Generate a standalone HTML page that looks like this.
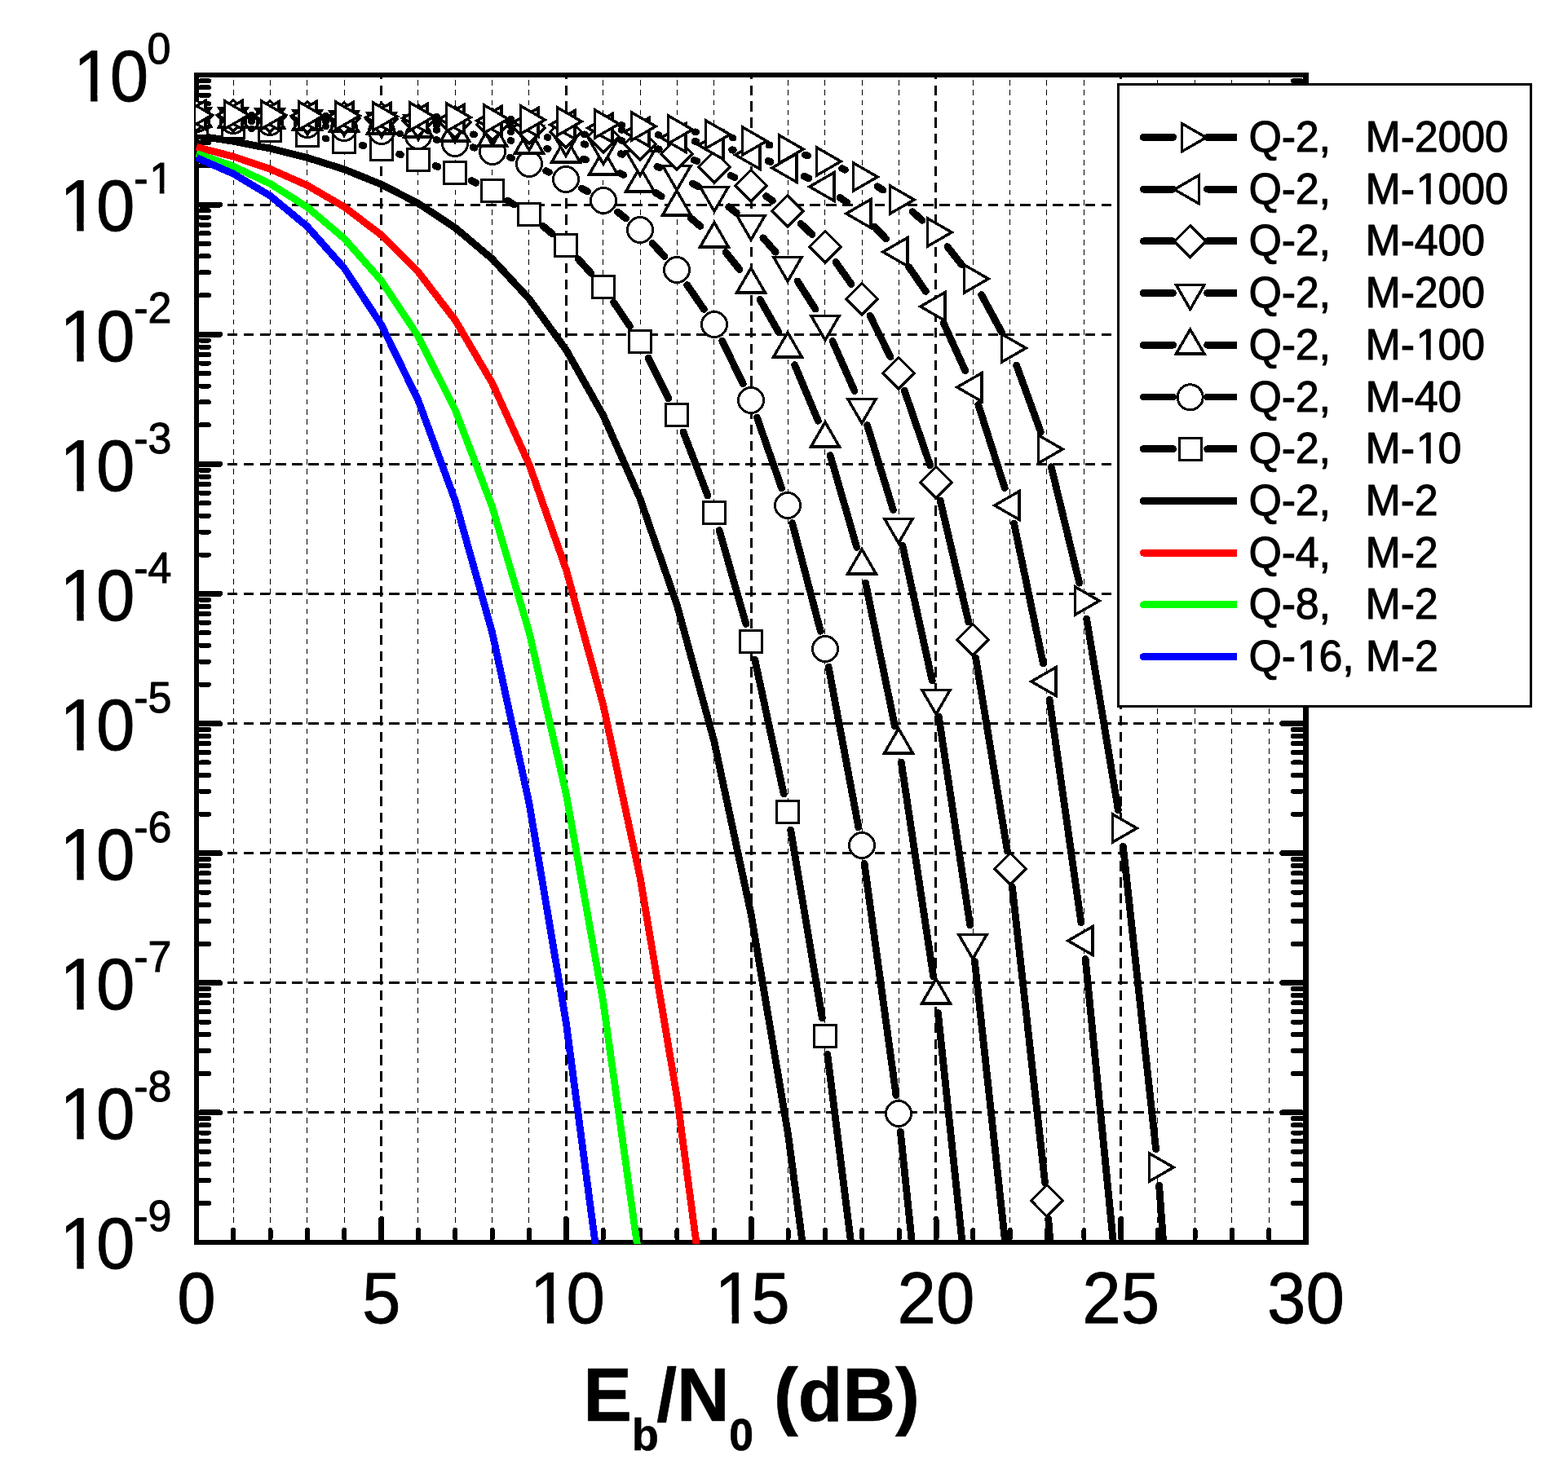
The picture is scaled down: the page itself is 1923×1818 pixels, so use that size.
<!DOCTYPE html>
<html lang="en"><head><meta charset="utf-8"><title>BER vs Eb/N0</title>
<style>html,body{margin:0;padding:0;background:#fff}body{width:1923px;height:1818px;overflow:hidden}svg{display:block}text{font-family:"Liberation Sans",sans-serif;fill:#000;white-space:pre}</style></head><body>
<svg width="1923" height="1818" viewBox="0 0 1923 1818">
<rect width="1923" height="1818" fill="#fff"/>
<defs><clipPath id="vp"><rect x="240" y="90.5" width="1363" height="1435.5"/></clipPath></defs>
<defs><clipPath id="gp"><rect x="244" y="95" width="1354" height="1426"/></clipPath></defs>
<g id="grid" shape-rendering="crispEdges" stroke="#000" fill="none" clip-path="url(#gp)">
<line x1="286.5" y1="85.86" x2="286.5" y2="1530" stroke-width="1" stroke-dasharray="6.6 5.64"/>
<line x1="331.5" y1="85.86" x2="331.5" y2="1530" stroke-width="1" stroke-dasharray="6.6 5.64"/>
<line x1="376.5" y1="85.86" x2="376.5" y2="1530" stroke-width="1" stroke-dasharray="6.6 5.64"/>
<line x1="422.5" y1="85.86" x2="422.5" y2="1530" stroke-width="1" stroke-dasharray="6.6 5.64"/>
<line x1="512.5" y1="85.86" x2="512.5" y2="1530" stroke-width="1" stroke-dasharray="6.6 5.64"/>
<line x1="558.5" y1="85.86" x2="558.5" y2="1530" stroke-width="1" stroke-dasharray="6.6 5.64"/>
<line x1="603.5" y1="85.86" x2="603.5" y2="1530" stroke-width="1" stroke-dasharray="6.6 5.64"/>
<line x1="648.5" y1="85.86" x2="648.5" y2="1530" stroke-width="1" stroke-dasharray="6.6 5.64"/>
<line x1="739.5" y1="85.86" x2="739.5" y2="1530" stroke-width="1" stroke-dasharray="6.6 5.64"/>
<line x1="785.5" y1="85.86" x2="785.5" y2="1530" stroke-width="1" stroke-dasharray="6.6 5.64"/>
<line x1="830.5" y1="85.86" x2="830.5" y2="1530" stroke-width="1" stroke-dasharray="6.6 5.64"/>
<line x1="875.5" y1="85.86" x2="875.5" y2="1530" stroke-width="1" stroke-dasharray="6.6 5.64"/>
<line x1="966.5" y1="85.86" x2="966.5" y2="1530" stroke-width="1" stroke-dasharray="6.6 5.64"/>
<line x1="1011.5" y1="85.86" x2="1011.5" y2="1530" stroke-width="1" stroke-dasharray="6.6 5.64"/>
<line x1="1057.5" y1="85.86" x2="1057.5" y2="1530" stroke-width="1" stroke-dasharray="6.6 5.64"/>
<line x1="1102.5" y1="85.86" x2="1102.5" y2="1530" stroke-width="1" stroke-dasharray="6.6 5.64"/>
<line x1="1193.5" y1="85.86" x2="1193.5" y2="1530" stroke-width="1" stroke-dasharray="6.6 5.64"/>
<line x1="1238.5" y1="85.86" x2="1238.5" y2="1530" stroke-width="1" stroke-dasharray="6.6 5.64"/>
<line x1="1283.5" y1="85.86" x2="1283.5" y2="1530" stroke-width="1" stroke-dasharray="6.6 5.64"/>
<line x1="1329.5" y1="85.86" x2="1329.5" y2="1530" stroke-width="1" stroke-dasharray="6.6 5.64"/>
<line x1="1419.5" y1="85.86" x2="1419.5" y2="1530" stroke-width="1" stroke-dasharray="6.6 5.64"/>
<line x1="1465.5" y1="85.86" x2="1465.5" y2="1530" stroke-width="1" stroke-dasharray="6.6 5.64"/>
<line x1="1510.5" y1="85.86" x2="1510.5" y2="1530" stroke-width="1" stroke-dasharray="6.6 5.64"/>
<line x1="1556.5" y1="85.86" x2="1556.5" y2="1530" stroke-width="1" stroke-dasharray="6.6 5.64"/>
<line x1="467.5" y1="84.72" x2="467.5" y2="1530" stroke-width="3" stroke-dasharray="12.4 7.43"/>
<line x1="694.5" y1="84.72" x2="694.5" y2="1530" stroke-width="3" stroke-dasharray="12.4 7.43"/>
<line x1="921.5" y1="84.72" x2="921.5" y2="1530" stroke-width="3" stroke-dasharray="12.4 7.43"/>
<line x1="1147.5" y1="84.72" x2="1147.5" y2="1530" stroke-width="3" stroke-dasharray="12.4 7.43"/>
<line x1="1374.5" y1="84.72" x2="1374.5" y2="1530" stroke-width="3" stroke-dasharray="12.4 7.43"/>
<line x1="239.1" y1="251.5" x2="1610" y2="251.5" stroke-width="3" stroke-dasharray="12.5 7.35"/>
<line x1="239.1" y1="410.5" x2="1610" y2="410.5" stroke-width="3" stroke-dasharray="12.5 7.35"/>
<line x1="239.1" y1="569.5" x2="1610" y2="569.5" stroke-width="3" stroke-dasharray="12.5 7.35"/>
<line x1="239.1" y1="728.5" x2="1610" y2="728.5" stroke-width="3" stroke-dasharray="12.5 7.35"/>
<line x1="239.1" y1="887.5" x2="1610" y2="887.5" stroke-width="3" stroke-dasharray="12.5 7.35"/>
<line x1="239.1" y1="1046.5" x2="1610" y2="1046.5" stroke-width="3" stroke-dasharray="12.5 7.35"/>
<line x1="239.1" y1="1205.5" x2="1610" y2="1205.5" stroke-width="3" stroke-dasharray="12.5 7.35"/>
<line x1="239.1" y1="1364.5" x2="1610" y2="1364.5" stroke-width="3" stroke-dasharray="12.5 7.35"/>
</g>
<g id="axes" shape-rendering="crispEdges" fill="#000">
<rect x="238" y="89" width="6" height="1438"/>
<rect x="238" y="89" width="1367" height="6"/>
<rect x="1598" y="89" width="7" height="1438"/>
<rect x="238" y="1521" width="1367" height="6"/>
</g>
<g id="ticks" stroke="#000" stroke-linecap="round" fill="none" shape-rendering="crispEdges">
<line x1="246" y1="251.111" x2="269.5" y2="251.111" stroke-width="7"/>
<line x1="1596" y1="251.111" x2="1573" y2="251.111" stroke-width="7"/>
<line x1="246" y1="203.214" x2="256" y2="203.214" stroke-width="6"/>
<line x1="1596" y1="203.214" x2="1586" y2="203.214" stroke-width="6"/>
<line x1="246" y1="175.196" x2="256" y2="175.196" stroke-width="6"/>
<line x1="1596" y1="175.196" x2="1586" y2="175.196" stroke-width="6"/>
<line x1="246" y1="155.317" x2="256" y2="155.317" stroke-width="6"/>
<line x1="1596" y1="155.317" x2="1586" y2="155.317" stroke-width="6"/>
<line x1="246" y1="139.897" x2="256" y2="139.897" stroke-width="6"/>
<line x1="1596" y1="139.897" x2="1586" y2="139.897" stroke-width="6"/>
<line x1="246" y1="127.299" x2="256" y2="127.299" stroke-width="6"/>
<line x1="1596" y1="127.299" x2="1586" y2="127.299" stroke-width="6"/>
<line x1="246" y1="116.647" x2="256" y2="116.647" stroke-width="6"/>
<line x1="1596" y1="116.647" x2="1586" y2="116.647" stroke-width="6"/>
<line x1="246" y1="107.419" x2="256" y2="107.419" stroke-width="6"/>
<line x1="1596" y1="107.419" x2="1586" y2="107.419" stroke-width="6"/>
<line x1="246" y1="99.281" x2="256" y2="99.281" stroke-width="6"/>
<line x1="1596" y1="99.281" x2="1586" y2="99.281" stroke-width="6"/>
<line x1="246" y1="410.222" x2="269.5" y2="410.222" stroke-width="7"/>
<line x1="1596" y1="410.222" x2="1573" y2="410.222" stroke-width="7"/>
<line x1="246" y1="362.325" x2="256" y2="362.325" stroke-width="6"/>
<line x1="1596" y1="362.325" x2="1586" y2="362.325" stroke-width="6"/>
<line x1="246" y1="334.307" x2="256" y2="334.307" stroke-width="6"/>
<line x1="1596" y1="334.307" x2="1586" y2="334.307" stroke-width="6"/>
<line x1="246" y1="314.428" x2="256" y2="314.428" stroke-width="6"/>
<line x1="1596" y1="314.428" x2="1586" y2="314.428" stroke-width="6"/>
<line x1="246" y1="299.008" x2="256" y2="299.008" stroke-width="6"/>
<line x1="1596" y1="299.008" x2="1586" y2="299.008" stroke-width="6"/>
<line x1="246" y1="286.41" x2="256" y2="286.41" stroke-width="6"/>
<line x1="1596" y1="286.41" x2="1586" y2="286.41" stroke-width="6"/>
<line x1="246" y1="275.758" x2="256" y2="275.758" stroke-width="6"/>
<line x1="1596" y1="275.758" x2="1586" y2="275.758" stroke-width="6"/>
<line x1="246" y1="266.53" x2="256" y2="266.53" stroke-width="6"/>
<line x1="1596" y1="266.53" x2="1586" y2="266.53" stroke-width="6"/>
<line x1="246" y1="258.392" x2="256" y2="258.392" stroke-width="6"/>
<line x1="1596" y1="258.392" x2="1586" y2="258.392" stroke-width="6"/>
<line x1="246" y1="569.333" x2="269.5" y2="569.333" stroke-width="7"/>
<line x1="1596" y1="569.333" x2="1573" y2="569.333" stroke-width="7"/>
<line x1="246" y1="521.436" x2="256" y2="521.436" stroke-width="6"/>
<line x1="1596" y1="521.436" x2="1586" y2="521.436" stroke-width="6"/>
<line x1="246" y1="493.418" x2="256" y2="493.418" stroke-width="6"/>
<line x1="1596" y1="493.418" x2="1586" y2="493.418" stroke-width="6"/>
<line x1="246" y1="473.539" x2="256" y2="473.539" stroke-width="6"/>
<line x1="1596" y1="473.539" x2="1586" y2="473.539" stroke-width="6"/>
<line x1="246" y1="458.119" x2="256" y2="458.119" stroke-width="6"/>
<line x1="1596" y1="458.119" x2="1586" y2="458.119" stroke-width="6"/>
<line x1="246" y1="445.521" x2="256" y2="445.521" stroke-width="6"/>
<line x1="1596" y1="445.521" x2="1586" y2="445.521" stroke-width="6"/>
<line x1="246" y1="434.869" x2="256" y2="434.869" stroke-width="6"/>
<line x1="1596" y1="434.869" x2="1586" y2="434.869" stroke-width="6"/>
<line x1="246" y1="425.641" x2="256" y2="425.641" stroke-width="6"/>
<line x1="1596" y1="425.641" x2="1586" y2="425.641" stroke-width="6"/>
<line x1="246" y1="417.503" x2="256" y2="417.503" stroke-width="6"/>
<line x1="1596" y1="417.503" x2="1586" y2="417.503" stroke-width="6"/>
<line x1="246" y1="728.444" x2="269.5" y2="728.444" stroke-width="7"/>
<line x1="1596" y1="728.444" x2="1573" y2="728.444" stroke-width="7"/>
<line x1="246" y1="680.547" x2="256" y2="680.547" stroke-width="6"/>
<line x1="1596" y1="680.547" x2="1586" y2="680.547" stroke-width="6"/>
<line x1="246" y1="652.529" x2="256" y2="652.529" stroke-width="6"/>
<line x1="1596" y1="652.529" x2="1586" y2="652.529" stroke-width="6"/>
<line x1="246" y1="632.65" x2="256" y2="632.65" stroke-width="6"/>
<line x1="1596" y1="632.65" x2="1586" y2="632.65" stroke-width="6"/>
<line x1="246" y1="617.23" x2="256" y2="617.23" stroke-width="6"/>
<line x1="1596" y1="617.23" x2="1586" y2="617.23" stroke-width="6"/>
<line x1="246" y1="604.632" x2="256" y2="604.632" stroke-width="6"/>
<line x1="1596" y1="604.632" x2="1586" y2="604.632" stroke-width="6"/>
<line x1="246" y1="593.98" x2="256" y2="593.98" stroke-width="6"/>
<line x1="1596" y1="593.98" x2="1586" y2="593.98" stroke-width="6"/>
<line x1="246" y1="584.752" x2="256" y2="584.752" stroke-width="6"/>
<line x1="1596" y1="584.752" x2="1586" y2="584.752" stroke-width="6"/>
<line x1="246" y1="576.614" x2="256" y2="576.614" stroke-width="6"/>
<line x1="1596" y1="576.614" x2="1586" y2="576.614" stroke-width="6"/>
<line x1="246" y1="887.555" x2="269.5" y2="887.555" stroke-width="7"/>
<line x1="1596" y1="887.555" x2="1573" y2="887.555" stroke-width="7"/>
<line x1="246" y1="839.658" x2="256" y2="839.658" stroke-width="6"/>
<line x1="1596" y1="839.658" x2="1586" y2="839.658" stroke-width="6"/>
<line x1="246" y1="811.64" x2="256" y2="811.64" stroke-width="6"/>
<line x1="1596" y1="811.64" x2="1586" y2="811.64" stroke-width="6"/>
<line x1="246" y1="791.761" x2="256" y2="791.761" stroke-width="6"/>
<line x1="1596" y1="791.761" x2="1586" y2="791.761" stroke-width="6"/>
<line x1="246" y1="776.341" x2="256" y2="776.341" stroke-width="6"/>
<line x1="1596" y1="776.341" x2="1586" y2="776.341" stroke-width="6"/>
<line x1="246" y1="763.743" x2="256" y2="763.743" stroke-width="6"/>
<line x1="1596" y1="763.743" x2="1586" y2="763.743" stroke-width="6"/>
<line x1="246" y1="753.091" x2="256" y2="753.091" stroke-width="6"/>
<line x1="1596" y1="753.091" x2="1586" y2="753.091" stroke-width="6"/>
<line x1="246" y1="743.863" x2="256" y2="743.863" stroke-width="6"/>
<line x1="1596" y1="743.863" x2="1586" y2="743.863" stroke-width="6"/>
<line x1="246" y1="735.725" x2="256" y2="735.725" stroke-width="6"/>
<line x1="1596" y1="735.725" x2="1586" y2="735.725" stroke-width="6"/>
<line x1="246" y1="1046.666" x2="269.5" y2="1046.666" stroke-width="7"/>
<line x1="1596" y1="1046.666" x2="1573" y2="1046.666" stroke-width="7"/>
<line x1="246" y1="998.769" x2="256" y2="998.769" stroke-width="6"/>
<line x1="1596" y1="998.769" x2="1586" y2="998.769" stroke-width="6"/>
<line x1="246" y1="970.751" x2="256" y2="970.751" stroke-width="6"/>
<line x1="1596" y1="970.751" x2="1586" y2="970.751" stroke-width="6"/>
<line x1="246" y1="950.872" x2="256" y2="950.872" stroke-width="6"/>
<line x1="1596" y1="950.872" x2="1586" y2="950.872" stroke-width="6"/>
<line x1="246" y1="935.452" x2="256" y2="935.452" stroke-width="6"/>
<line x1="1596" y1="935.452" x2="1586" y2="935.452" stroke-width="6"/>
<line x1="246" y1="922.854" x2="256" y2="922.854" stroke-width="6"/>
<line x1="1596" y1="922.854" x2="1586" y2="922.854" stroke-width="6"/>
<line x1="246" y1="912.202" x2="256" y2="912.202" stroke-width="6"/>
<line x1="1596" y1="912.202" x2="1586" y2="912.202" stroke-width="6"/>
<line x1="246" y1="902.974" x2="256" y2="902.974" stroke-width="6"/>
<line x1="1596" y1="902.974" x2="1586" y2="902.974" stroke-width="6"/>
<line x1="246" y1="894.836" x2="256" y2="894.836" stroke-width="6"/>
<line x1="1596" y1="894.836" x2="1586" y2="894.836" stroke-width="6"/>
<line x1="246" y1="1205.777" x2="269.5" y2="1205.777" stroke-width="7"/>
<line x1="1596" y1="1205.777" x2="1573" y2="1205.777" stroke-width="7"/>
<line x1="246" y1="1157.88" x2="256" y2="1157.88" stroke-width="6"/>
<line x1="1596" y1="1157.88" x2="1586" y2="1157.88" stroke-width="6"/>
<line x1="246" y1="1129.862" x2="256" y2="1129.862" stroke-width="6"/>
<line x1="1596" y1="1129.862" x2="1586" y2="1129.862" stroke-width="6"/>
<line x1="246" y1="1109.983" x2="256" y2="1109.983" stroke-width="6"/>
<line x1="1596" y1="1109.983" x2="1586" y2="1109.983" stroke-width="6"/>
<line x1="246" y1="1094.563" x2="256" y2="1094.563" stroke-width="6"/>
<line x1="1596" y1="1094.563" x2="1586" y2="1094.563" stroke-width="6"/>
<line x1="246" y1="1081.965" x2="256" y2="1081.965" stroke-width="6"/>
<line x1="1596" y1="1081.965" x2="1586" y2="1081.965" stroke-width="6"/>
<line x1="246" y1="1071.313" x2="256" y2="1071.313" stroke-width="6"/>
<line x1="1596" y1="1071.313" x2="1586" y2="1071.313" stroke-width="6"/>
<line x1="246" y1="1062.085" x2="256" y2="1062.085" stroke-width="6"/>
<line x1="1596" y1="1062.085" x2="1586" y2="1062.085" stroke-width="6"/>
<line x1="246" y1="1053.947" x2="256" y2="1053.947" stroke-width="6"/>
<line x1="1596" y1="1053.947" x2="1586" y2="1053.947" stroke-width="6"/>
<line x1="246" y1="1364.888" x2="269.5" y2="1364.888" stroke-width="7"/>
<line x1="1596" y1="1364.888" x2="1573" y2="1364.888" stroke-width="7"/>
<line x1="246" y1="1316.991" x2="256" y2="1316.991" stroke-width="6"/>
<line x1="1596" y1="1316.991" x2="1586" y2="1316.991" stroke-width="6"/>
<line x1="246" y1="1288.973" x2="256" y2="1288.973" stroke-width="6"/>
<line x1="1596" y1="1288.973" x2="1586" y2="1288.973" stroke-width="6"/>
<line x1="246" y1="1269.094" x2="256" y2="1269.094" stroke-width="6"/>
<line x1="1596" y1="1269.094" x2="1586" y2="1269.094" stroke-width="6"/>
<line x1="246" y1="1253.674" x2="256" y2="1253.674" stroke-width="6"/>
<line x1="1596" y1="1253.674" x2="1586" y2="1253.674" stroke-width="6"/>
<line x1="246" y1="1241.076" x2="256" y2="1241.076" stroke-width="6"/>
<line x1="1596" y1="1241.076" x2="1586" y2="1241.076" stroke-width="6"/>
<line x1="246" y1="1230.424" x2="256" y2="1230.424" stroke-width="6"/>
<line x1="1596" y1="1230.424" x2="1586" y2="1230.424" stroke-width="6"/>
<line x1="246" y1="1221.196" x2="256" y2="1221.196" stroke-width="6"/>
<line x1="1596" y1="1221.196" x2="1586" y2="1221.196" stroke-width="6"/>
<line x1="246" y1="1213.058" x2="256" y2="1213.058" stroke-width="6"/>
<line x1="1596" y1="1213.058" x2="1586" y2="1213.058" stroke-width="6"/>
<line x1="246" y1="1476.102" x2="256" y2="1476.102" stroke-width="6"/>
<line x1="1596" y1="1476.102" x2="1586" y2="1476.102" stroke-width="6"/>
<line x1="246" y1="1448.084" x2="256" y2="1448.084" stroke-width="6"/>
<line x1="1596" y1="1448.084" x2="1586" y2="1448.084" stroke-width="6"/>
<line x1="246" y1="1428.205" x2="256" y2="1428.205" stroke-width="6"/>
<line x1="1596" y1="1428.205" x2="1586" y2="1428.205" stroke-width="6"/>
<line x1="246" y1="1412.785" x2="256" y2="1412.785" stroke-width="6"/>
<line x1="1596" y1="1412.785" x2="1586" y2="1412.785" stroke-width="6"/>
<line x1="246" y1="1400.187" x2="256" y2="1400.187" stroke-width="6"/>
<line x1="1596" y1="1400.187" x2="1586" y2="1400.187" stroke-width="6"/>
<line x1="246" y1="1389.535" x2="256" y2="1389.535" stroke-width="6"/>
<line x1="1596" y1="1389.535" x2="1586" y2="1389.535" stroke-width="6"/>
<line x1="246" y1="1380.307" x2="256" y2="1380.307" stroke-width="6"/>
<line x1="1596" y1="1380.307" x2="1586" y2="1380.307" stroke-width="6"/>
<line x1="246" y1="1372.169" x2="256" y2="1372.169" stroke-width="6"/>
<line x1="1596" y1="1372.169" x2="1586" y2="1372.169" stroke-width="6"/>
<line x1="286.16" y1="1519" x2="286.16" y2="1509" stroke-width="6"/>
<line x1="331.52" y1="1519" x2="331.52" y2="1509" stroke-width="6"/>
<line x1="376.88" y1="1519" x2="376.88" y2="1509" stroke-width="6"/>
<line x1="422.24" y1="1519" x2="422.24" y2="1509" stroke-width="6"/>
<line x1="467.6" y1="1519" x2="467.6" y2="1495.5" stroke-width="7"/>
<line x1="512.96" y1="1519" x2="512.96" y2="1509" stroke-width="6"/>
<line x1="558.32" y1="1519" x2="558.32" y2="1509" stroke-width="6"/>
<line x1="603.68" y1="1519" x2="603.68" y2="1509" stroke-width="6"/>
<line x1="649.04" y1="1519" x2="649.04" y2="1509" stroke-width="6"/>
<line x1="694.4" y1="1519" x2="694.4" y2="1495.5" stroke-width="7"/>
<line x1="739.76" y1="1519" x2="739.76" y2="1509" stroke-width="6"/>
<line x1="785.12" y1="1519" x2="785.12" y2="1509" stroke-width="6"/>
<line x1="830.48" y1="1519" x2="830.48" y2="1509" stroke-width="6"/>
<line x1="875.84" y1="1519" x2="875.84" y2="1509" stroke-width="6"/>
<line x1="921.2" y1="1519" x2="921.2" y2="1495.5" stroke-width="7"/>
<line x1="966.56" y1="1519" x2="966.56" y2="1509" stroke-width="6"/>
<line x1="1011.92" y1="1519" x2="1011.92" y2="1509" stroke-width="6"/>
<line x1="1057.28" y1="1519" x2="1057.28" y2="1509" stroke-width="6"/>
<line x1="1102.64" y1="1519" x2="1102.64" y2="1509" stroke-width="6"/>
<line x1="1148" y1="1519" x2="1148" y2="1495.5" stroke-width="7"/>
<line x1="1193.36" y1="1519" x2="1193.36" y2="1509" stroke-width="6"/>
<line x1="1238.72" y1="1519" x2="1238.72" y2="1509" stroke-width="6"/>
<line x1="1284.08" y1="1519" x2="1284.08" y2="1509" stroke-width="6"/>
<line x1="1329.44" y1="1519" x2="1329.44" y2="1509" stroke-width="6"/>
<line x1="1374.8" y1="1519" x2="1374.8" y2="1495.5" stroke-width="7"/>
<line x1="1420.16" y1="1519" x2="1420.16" y2="1509" stroke-width="6"/>
<line x1="1465.52" y1="1519" x2="1465.52" y2="1509" stroke-width="6"/>
<line x1="1510.88" y1="1519" x2="1510.88" y2="1509" stroke-width="6"/>
<line x1="1556.24" y1="1519" x2="1556.24" y2="1509" stroke-width="6"/>
</g>
<g id="data" clip-path="url(#vp)" shape-rendering="crispEdges" fill="none" stroke-linejoin="round">
<polyline points="240.8,166.309 286.16,173.295 331.52,182.166 376.88,193.448 422.24,207.815 467.6,226.138 512.96,249.536 558.32,279.448 603.68,317.715 649.04,366.69 694.4,429.366 739.76,509.539 785.12,612.007 830.48,742.82 875.84,909.598 921.2,1121.921 966.56,1391.839 1011.92,1734.494" stroke="#000000" stroke-width="8.8" stroke-linecap="butt"/>
<polyline points="240.8,180.318 286.16,192.041 331.52,207.37 376.88,227.454 422.24,253.797 467.6,288.351 512.96,333.622 558.32,392.795 603.68,469.88 649.04,569.874 694.4,698.97 739.76,864.825 785.12,1076.941 830.48,1347.203 875.84,1690.595" stroke="#ff0000" stroke-width="8.8" stroke-linecap="butt"/>
<polyline points="240.8,188.26 286.16,204.09 331.52,225.413 376.88,254.112 422.24,292.646 467.6,344.17 512.96,412.68 558.32,503.157 603.68,621.725 649.04,775.837 694.4,974.553 739.76,1228.996 785.12,1553.087 830.48,1964.505" stroke="#00ff00" stroke-width="8.8" stroke-linecap="butt"/>
<polyline points="240.8,193.35 286.16,213.097 331.52,240.367 376.88,277.849 422.24,329.018 467.6,398.29 512.96,491.169 558.32,614.38 603.68,776.017 649.04,985.746 694.4,1255.224 739.76,1598.93 785.12,2035.337" stroke="#0000ff" stroke-width="8.8" stroke-linecap="butt"/>
<path d="M308.301,157.982L308.699,158.018M399.103,169.929L399.897,170.071M444.032,178.311L445.968,178.689M489.568,189.231L491.432,189.769M534.153,203.521L536.847,204.479M578.253,221.686L583.747,224.314M622.871,246.161L630.129,250.839M666.152,277.484L676.848,286.516M709.036,317.671L724.964,335.329M752.517,370.637L772.483,400.363M795.04,439.08L819.96,488.92M838.036,529.963L867.964,608.037M882.149,650.591L914.851,765.409M925.725,808.947L961.275,974.053M969.704,1018.142L1008.296,1248.858M1014.785,1293.277L1054.215,1608.723" stroke="#000" stroke-width="8.8" stroke-linecap="round"/>
<g fill="#fff" stroke="#000" stroke-width="3" stroke-linejoin="miter">
<rect x="227.5" y="139.5" width="27" height="27"/>
<rect x="272.5" y="142.5" width="27" height="27"/>
<rect x="317.5" y="146.5" width="27" height="27"/>
<rect x="363.5" y="152.5" width="27" height="27"/>
<rect x="408.5" y="160.5" width="27" height="27"/>
<rect x="454.5" y="169.5" width="27" height="27"/>
<rect x="499.5" y="182.5" width="27" height="27"/>
<rect x="544.5" y="198.5" width="27" height="27"/>
<rect x="590.5" y="220.5" width="27" height="27"/>
<rect x="635.5" y="249.5" width="27" height="27"/>
<rect x="680.5" y="287.5" width="27" height="27"/>
<rect x="726.5" y="338.5" width="27" height="27"/>
<rect x="771.5" y="405.5" width="27" height="27"/>
<rect x="816.5" y="495.5" width="27" height="27"/>
<rect x="862.5" y="615.5" width="27" height="27"/>
<rect x="907.5" y="773.5" width="27" height="27"/>
<rect x="952.5" y="982.5" width="27" height="27"/>
<rect x="998.5" y="1257.5" width="27" height="27"/>
</g>
<path d="M308.3,148.991L308.7,149.009M399.301,154.982L399.699,155.018M490.253,163.967L490.747,164.033M535.014,171.403L535.986,171.597M579.938,180.769L582.062,181.231M625.298,193.099L627.702,193.901M669.682,209.732L673.318,211.268M713.544,231.047L720.456,234.953M757.531,260.024L767.469,267.976M800.185,298.535L814.815,314.465M842.707,349.508L863.293,379.492M885.778,418.209L911.222,470.791M928.394,512.197L958.606,598.803M971.677,641.72L1006.323,774.28M1016.121,818.069L1052.879,1014.931M1060.042,1059.243L1098.958,1343.757M1104.314,1388.33L1145.686,1787.67" stroke="#000" stroke-width="8.8" stroke-linecap="round"/>
<g fill="#fff" stroke="#000" stroke-width="3" stroke-linejoin="miter">
<circle cx="241" cy="146" r="15.5"/>
<circle cx="286" cy="148" r="15.5"/>
<circle cx="331" cy="150" r="15.5"/>
<circle cx="377" cy="153" r="15.5"/>
<circle cx="422" cy="157" r="15.5"/>
<circle cx="468" cy="161" r="15.5"/>
<circle cx="513" cy="167" r="15.5"/>
<circle cx="558" cy="176" r="15.5"/>
<circle cx="604" cy="186" r="15.5"/>
<circle cx="649" cy="201" r="15.5"/>
<circle cx="694" cy="220" r="15.5"/>
<circle cx="740" cy="246" r="15.5"/>
<circle cx="785" cy="282" r="15.5"/>
<circle cx="830" cy="331" r="15.5"/>
<circle cx="876" cy="398" r="15.5"/>
<circle cx="921" cy="491" r="15.5"/>
<circle cx="966" cy="620" r="15.5"/>
<circle cx="1012" cy="796" r="15.5"/>
<circle cx="1057" cy="1037" r="15.5"/>
<circle cx="1102" cy="1366" r="15.5"/>
</g>
<path d="M308.3,145.496L308.7,145.504M399.3,148.991L399.7,149.009M535.301,159.478L535.699,159.522M580.261,164.904L581.739,165.096M626.014,172.403L626.986,172.597M670.808,182.331L672.192,182.669M715.344,194.96L718.656,196.04M760.344,212.494L764.656,214.506M803.871,236.161L811.129,240.839M847.124,267.518L858.876,277.482M890.062,309.5L906.938,330.5M932.112,367.507L954.888,407.493M974.661,447.712L1003.339,516.288M1018.222,558.57L1050.778,671.43M1061.499,714.995L1097.501,891.005M1105.327,935.202L1144.673,1197.798M1150.353,1242.326L1190.647,1624.674" stroke="#000" stroke-width="8.8" stroke-linecap="round"/>
<g fill="#fff" stroke="#000" stroke-width="3" stroke-linejoin="miter">
<polygon stroke-width="3.4" points="241,124.8 258.321,154.8 223.679,154.8"/>
<polygon stroke-width="3.4" points="286,125.8 303.321,155.8 268.679,155.8"/>
<polygon stroke-width="3.4" points="331,126.8 348.321,156.8 313.679,156.8"/>
<polygon stroke-width="3.4" points="377,128.8 394.321,158.8 359.679,158.8"/>
<polygon stroke-width="3.4" points="422,130.8 439.321,160.8 404.679,160.8"/>
<polygon stroke-width="3.4" points="468,133.8 485.321,163.8 450.679,163.8"/>
<polygon stroke-width="3.4" points="513,137.8 530.321,167.8 495.679,167.8"/>
<polygon stroke-width="3.4" points="558,142.8 575.321,172.8 540.679,172.8"/>
<polygon stroke-width="3.4" points="604,148.8 621.321,178.8 586.679,178.8"/>
<polygon stroke-width="3.4" points="649,157.8 666.321,187.8 631.679,187.8"/>
<polygon stroke-width="3.4" points="694,168.8 711.321,198.8 676.679,198.8"/>
<polygon stroke-width="3.4" points="740,183.8 757.321,213.8 722.679,213.8"/>
<polygon stroke-width="3.4" points="785,204.8 802.321,234.8 767.679,234.8"/>
<polygon stroke-width="3.4" points="830,233.8 847.321,263.8 812.679,263.8"/>
<polygon stroke-width="3.4" points="876,272.8 893.321,302.8 858.679,302.8"/>
<polygon stroke-width="3.4" points="921,328.8 938.321,358.8 903.679,358.8"/>
<polygon stroke-width="3.4" points="966,407.8 983.321,437.8 948.679,437.8"/>
<polygon stroke-width="3.4" points="1012,517.8 1029.321,547.8 994.679,547.8"/>
<polygon stroke-width="3.4" points="1057,673.8 1074.321,703.8 1039.679,703.8"/>
<polygon stroke-width="3.4" points="1102,893.8 1119.321,923.8 1084.679,923.8"/>
<polygon stroke-width="3.4" points="1148,1200.8 1165.321,1230.8 1130.679,1230.8"/>
</g>
<path d="M308.3,143.496L308.7,143.504M399.3,146.496L399.7,146.504M535.3,153.487L535.7,153.513M626.253,161.967L626.747,162.033M671.183,168.451L671.817,168.549M715.938,176.769L718.062,177.231M761.437,188.669L763.563,189.331M805.844,204.338L809.156,205.662M849.544,225.047L856.456,228.953M893.721,253.783L903.279,261.217M935.853,291.834L951.147,309.166M978.087,344.919L999.913,379.081M1021.062,418.54L1047.938,479.46M1063.571,521.467L1095.429,625.533M1106.804,668.93L1143.196,835.07M1151.33,879.202L1189.67,1134.798M1195.416,1179.32L1236.584,1559.68" stroke="#000" stroke-width="8.8" stroke-linecap="round"/>
<g fill="#fff" stroke="#000" stroke-width="3" stroke-linejoin="miter">
<polygon stroke-width="3.4" points="241,162.2 223.679,132.2 258.321,132.2"/>
<polygon stroke-width="3.4" points="286,162.2 268.679,132.2 303.321,132.2"/>
<polygon stroke-width="3.4" points="331,163.2 313.679,133.2 348.321,133.2"/>
<polygon stroke-width="3.4" points="377,165.2 359.679,135.2 394.321,135.2"/>
<polygon stroke-width="3.4" points="422,166.2 404.679,136.2 439.321,136.2"/>
<polygon stroke-width="3.4" points="468,168.2 450.679,138.2 485.321,138.2"/>
<polygon stroke-width="3.4" points="513,171.2 495.679,141.2 530.321,141.2"/>
<polygon stroke-width="3.4" points="558,174.2 540.679,144.2 575.321,144.2"/>
<polygon stroke-width="3.4" points="604,178.2 586.679,148.2 621.321,148.2"/>
<polygon stroke-width="3.4" points="649,184.2 631.679,154.2 666.321,154.2"/>
<polygon stroke-width="3.4" points="694,191.2 676.679,161.2 711.321,161.2"/>
<polygon stroke-width="3.4" points="740,201.2 722.679,171.2 757.321,171.2"/>
<polygon stroke-width="3.4" points="785,215.2 767.679,185.2 802.321,185.2"/>
<polygon stroke-width="3.4" points="830,233.2 812.679,203.2 847.321,203.2"/>
<polygon stroke-width="3.4" points="876,259.2 858.679,229.2 893.321,229.2"/>
<polygon stroke-width="3.4" points="921,294.2 903.679,264.2 938.321,264.2"/>
<polygon stroke-width="3.4" points="966,345.2 948.679,315.2 983.321,315.2"/>
<polygon stroke-width="3.4" points="1012,417.2 994.679,387.2 1029.321,387.2"/>
<polygon stroke-width="3.4" points="1057,519.2 1039.679,489.2 1074.321,489.2"/>
<polygon stroke-width="3.4" points="1102,666.2 1084.679,636.2 1119.321,636.2"/>
<polygon stroke-width="3.4" points="1148,876.2 1130.679,846.2 1165.321,846.2"/>
<polygon stroke-width="3.4" points="1193,1176.2 1175.679,1146.2 1210.321,1146.2"/>
</g>
<path d="M308.3,142.496L308.7,142.504M399.3,144.496L399.7,144.504M535.3,148.991L535.7,149.009M626.301,154.982L626.699,155.018M716.261,164.904L717.739,165.096M762.014,172.403L762.986,172.597M806.692,182.785L808.308,183.215M851.204,196.375L854.796,197.625M895.99,215.217L901.01,217.783M939.488,240.736L947.512,246.264M982.223,274.518L995.777,287.482M1024.913,321.365L1044.087,348.635M1066.951,387.124L1092.049,437.876M1109.289,479.234L1140.711,570.766M1153.098,613.864L1187.902,763.136M1196.627,807.155L1235.373,1043.845M1241.467,1088.314L1281.533,1450.686M1285.719,1495.384L1327.281,2036.616" stroke="#000" stroke-width="8.8" stroke-linecap="round"/>
<g fill="#fff" stroke="#000" stroke-width="3" stroke-linejoin="miter">
<polygon stroke-width="3.4" points="241,122.6 260.4,142 241,161.4 221.6,142"/>
<polygon stroke-width="3.4" points="286,122.6 305.4,142 286,161.4 266.6,142"/>
<polygon stroke-width="3.4" points="331,123.6 350.4,143 331,162.4 311.6,143"/>
<polygon stroke-width="3.4" points="377,124.6 396.4,144 377,163.4 357.6,144"/>
<polygon stroke-width="3.4" points="422,125.6 441.4,145 422,164.4 402.6,145"/>
<polygon stroke-width="3.4" points="468,126.6 487.4,146 468,165.4 448.6,146"/>
<polygon stroke-width="3.4" points="513,128.6 532.4,148 513,167.4 493.6,148"/>
<polygon stroke-width="3.4" points="558,130.6 577.4,150 558,169.4 538.6,150"/>
<polygon stroke-width="3.4" points="604,133.6 623.4,153 604,172.4 584.6,153"/>
<polygon stroke-width="3.4" points="649,137.6 668.4,157 649,176.4 629.6,157"/>
<polygon stroke-width="3.4" points="694,142.6 713.4,162 694,181.4 674.6,162"/>
<polygon stroke-width="3.4" points="740,148.6 759.4,168 740,187.4 720.6,168"/>
<polygon stroke-width="3.4" points="785,157.6 804.4,177 785,196.4 765.6,177"/>
<polygon stroke-width="3.4" points="830,169.6 849.4,189 830,208.4 810.6,189"/>
<polygon stroke-width="3.4" points="876,185.6 895.4,205 876,224.4 856.6,205"/>
<polygon stroke-width="3.4" points="921,208.6 940.4,228 921,247.4 901.6,228"/>
<polygon stroke-width="3.4" points="966,239.6 985.4,259 966,278.4 946.6,259"/>
<polygon stroke-width="3.4" points="1012,283.6 1031.4,303 1012,322.4 992.6,303"/>
<polygon stroke-width="3.4" points="1057,347.6 1076.4,367 1057,386.4 1037.6,367"/>
<polygon stroke-width="3.4" points="1102,438.6 1121.4,458 1102,477.4 1082.6,458"/>
<polygon stroke-width="3.4" points="1148,572.6 1167.4,592 1148,611.4 1128.6,592"/>
<polygon stroke-width="3.4" points="1193,765.6 1212.4,785 1193,804.4 1173.6,785"/>
<polygon stroke-width="3.4" points="1239,1046.6 1258.4,1066 1239,1085.4 1219.6,1066"/>
<polygon stroke-width="3.4" points="1284,1453.6 1303.4,1473 1284,1492.4 1264.6,1473"/>
</g>
<path d="M308.3,141.496L308.7,141.504M399.3,142.496L399.7,142.504M535.3,145.496L535.7,145.504M626.3,148.991L626.7,149.009M762.301,159.478L762.699,159.522M807.183,165.451L807.817,165.549M852.032,173.311L853.968,173.689M897.692,183.785L899.308,184.215M942.153,197.521L944.847,198.479M986.08,216.04L991.92,218.96M1030.104,242.276L1038.896,248.724M1072.526,278.216L1086.474,292.784M1114.707,327.508L1135.293,357.492M1157.29,396.438L1183.71,454.562M1199.789,496.399L1232.211,598.601M1243.579,641.978L1279.421,814.022M1287.146,858.229L1325.854,1131.771M1331.191,1176.343L1372.809,1600.657" stroke="#000" stroke-width="8.8" stroke-linecap="round"/>
<g fill="#fff" stroke="#000" stroke-width="3" stroke-linejoin="miter">
<polygon stroke-width="3.4" points="221.8,141 251.8,123.679 251.8,158.321"/>
<polygon stroke-width="3.4" points="266.8,141 296.8,123.679 296.8,158.321"/>
<polygon stroke-width="3.4" points="311.8,142 341.8,124.679 341.8,159.321"/>
<polygon stroke-width="3.4" points="357.8,142 387.8,124.679 387.8,159.321"/>
<polygon stroke-width="3.4" points="402.8,143 432.8,125.679 432.8,160.321"/>
<polygon stroke-width="3.4" points="448.8,144 478.8,126.679 478.8,161.321"/>
<polygon stroke-width="3.4" points="493.8,145 523.8,127.679 523.8,162.321"/>
<polygon stroke-width="3.4" points="538.8,146 568.8,128.679 568.8,163.321"/>
<polygon stroke-width="3.4" points="584.8,148 614.8,130.679 614.8,165.321"/>
<polygon stroke-width="3.4" points="629.8,150 659.8,132.679 659.8,167.321"/>
<polygon stroke-width="3.4" points="674.8,153 704.8,135.679 704.8,170.321"/>
<polygon stroke-width="3.4" points="720.8,157 750.8,139.679 750.8,174.321"/>
<polygon stroke-width="3.4" points="765.8,162 795.8,144.679 795.8,179.321"/>
<polygon stroke-width="3.4" points="810.8,169 840.8,151.679 840.8,186.321"/>
<polygon stroke-width="3.4" points="856.8,178 886.8,160.679 886.8,195.321"/>
<polygon stroke-width="3.4" points="901.8,190 931.8,172.679 931.8,207.321"/>
<polygon stroke-width="3.4" points="946.8,206 976.8,188.679 976.8,223.321"/>
<polygon stroke-width="3.4" points="992.8,229 1022.8,211.679 1022.8,246.321"/>
<polygon stroke-width="3.4" points="1037.8,262 1067.8,244.679 1067.8,279.321"/>
<polygon stroke-width="3.4" points="1082.8,309 1112.8,291.679 1112.8,326.321"/>
<polygon stroke-width="3.4" points="1128.8,376 1158.8,358.679 1158.8,393.321"/>
<polygon stroke-width="3.4" points="1173.8,475 1203.8,457.679 1203.8,492.321"/>
<polygon stroke-width="3.4" points="1219.8,620 1249.8,602.679 1249.8,637.321"/>
<polygon stroke-width="3.4" points="1264.8,836 1294.8,818.679 1294.8,853.321"/>
<polygon stroke-width="3.4" points="1309.8,1154 1339.8,1136.679 1339.8,1171.321"/>
</g>
<path d="M308.3,141L308.7,141M399.3,142L399.7,142M535.3,143.496L535.7,143.504M626.3,146.496L626.7,146.504M762.3,153.487L762.7,153.513M852.261,161.904L853.739,162.096M898.103,168.929L898.897,169.071M942.915,177.87L944.085,178.13M987.344,189.96L990.656,191.04M1032.682,206.732L1036.318,208.268M1076.061,228.86L1082.939,233.14M1118.941,259.731L1131.059,270.269M1161.911,302.621L1179.089,324.379M1203.685,361.744L1228.315,407.256M1246.658,448.103L1276.342,529.897M1289.279,572.82L1323.721,715.18M1332.652,759.151L1371.348,993.849M1377.414,1038.32L1417.586,1409.68M1421.623,1454.391L1463.377,2030.609" stroke="#000" stroke-width="8.8" stroke-linecap="round"/>
<g fill="#fff" stroke="#000" stroke-width="3" stroke-linejoin="miter">
<polygon stroke-width="3.4" points="260.2,141 230.2,158.321 230.2,123.679"/>
<polygon stroke-width="3.4" points="305.2,141 275.2,158.321 275.2,123.679"/>
<polygon stroke-width="3.4" points="350.2,141 320.2,158.321 320.2,123.679"/>
<polygon stroke-width="3.4" points="396.2,142 366.2,159.321 366.2,124.679"/>
<polygon stroke-width="3.4" points="441.2,142 411.2,159.321 411.2,124.679"/>
<polygon stroke-width="3.4" points="487.2,143 457.2,160.321 457.2,125.679"/>
<polygon stroke-width="3.4" points="532.2,143 502.2,160.321 502.2,125.679"/>
<polygon stroke-width="3.4" points="577.2,144 547.2,161.321 547.2,126.679"/>
<polygon stroke-width="3.4" points="623.2,146 593.2,163.321 593.2,128.679"/>
<polygon stroke-width="3.4" points="668.2,147 638.2,164.321 638.2,129.679"/>
<polygon stroke-width="3.4" points="713.2,149 683.2,166.321 683.2,131.679"/>
<polygon stroke-width="3.4" points="759.2,152 729.2,169.321 729.2,134.679"/>
<polygon stroke-width="3.4" points="804.2,155 774.2,172.321 774.2,137.679"/>
<polygon stroke-width="3.4" points="849.2,159 819.2,176.321 819.2,141.679"/>
<polygon stroke-width="3.4" points="895.2,165 865.2,182.321 865.2,147.679"/>
<polygon stroke-width="3.4" points="940.2,173 910.2,190.321 910.2,155.679"/>
<polygon stroke-width="3.4" points="985.2,183 955.2,200.321 955.2,165.679"/>
<polygon stroke-width="3.4" points="1031.2,198 1001.2,215.321 1001.2,180.679"/>
<polygon stroke-width="3.4" points="1076.2,217 1046.2,234.321 1046.2,199.679"/>
<polygon stroke-width="3.4" points="1121.2,245 1091.2,262.321 1091.2,227.679"/>
<polygon stroke-width="3.4" points="1167.2,285 1137.2,302.321 1137.2,267.679"/>
<polygon stroke-width="3.4" points="1212.2,342 1182.2,359.321 1182.2,324.679"/>
<polygon stroke-width="3.4" points="1258.2,427 1228.2,444.321 1228.2,409.679"/>
<polygon stroke-width="3.4" points="1303.2,551 1273.2,568.321 1273.2,533.679"/>
<polygon stroke-width="3.4" points="1348.2,737 1318.2,754.321 1318.2,719.679"/>
<polygon stroke-width="3.4" points="1394.2,1016 1364.2,1033.321 1364.2,998.679"/>
<polygon stroke-width="3.4" points="1439.2,1432 1409.2,1449.321 1409.2,1414.679"/>
</g>
</g>
<g id="legend">
<rect x="1371.5" y="103.5" width="506" height="762.5" fill="#fff" stroke="#000" stroke-width="3" shape-rendering="crispEdges"/>
<g shape-rendering="crispEdges" fill="none" stroke="#000" stroke-width="8.8">
<path d="M1402.2,168.4L1438.6,168.4M1480.6,168.4L1512,168.4" stroke-linecap="round"/>
<path d="M1507,168.4L1517,168.4" stroke-linecap="butt"/>
<g fill="#fff" stroke="#000" stroke-width="3" stroke-linejoin="miter"><polygon stroke-width="3.4" points="1479.2,168.7 1449.2,186.021 1449.2,151.379"/></g>
</g>
<text transform="translate(1531.5,186) scale(1,1.041)" font-size="52" stroke="#000" stroke-width="1" stroke-linejoin="round" letter-spacing="-0.2" xml:space="preserve">Q-2,   M-2000</text>
<g shape-rendering="crispEdges" fill="none" stroke="#000" stroke-width="8.8">
<path d="M1402.2,232.12L1438.6,232.12M1480.6,232.12L1512,232.12" stroke-linecap="round"/>
<path d="M1507,232.12L1517,232.12" stroke-linecap="butt"/>
<g fill="#fff" stroke="#000" stroke-width="3" stroke-linejoin="miter"><polygon stroke-width="3.4" points="1440.2,232.42 1470.2,215.099 1470.2,249.741"/></g>
</g>
<clipPath id="c1"><path clip-rule="evenodd" d="M-50,-200H370.785V100H-50ZM207.467,-6.205H217.582V1.5H207.467ZM223.178,-6.205H232.887V1.5H223.178Z"/></clipPath><text transform="translate(1531.5,249.72) scale(1,1.041)" font-size="52" clip-path="url(#c1)" dx="0 0 0 0 0 0 0 0 0 1.7 -1.7 0 0" stroke="#000" stroke-width="1" stroke-linejoin="round" letter-spacing="-0.2" xml:space="preserve">Q-2,   M-1000</text>
<g shape-rendering="crispEdges" fill="none" stroke="#000" stroke-width="8.8">
<path d="M1402.2,295.84L1438.6,295.84M1480.6,295.84L1512,295.84" stroke-linecap="round"/>
<path d="M1507,295.84L1517,295.84" stroke-linecap="butt"/>
<g fill="#fff" stroke="#000" stroke-width="3" stroke-linejoin="miter"><polygon stroke-width="3.4" points="1459.7,276.74 1479.1,296.14 1459.7,315.54 1440.3,296.14"/></g>
</g>
<text transform="translate(1531.5,313.44) scale(1,1.041)" font-size="52" stroke="#000" stroke-width="1" stroke-linejoin="round" letter-spacing="-0.2" xml:space="preserve">Q-2,   M-400</text>
<g shape-rendering="crispEdges" fill="none" stroke="#000" stroke-width="8.8">
<path d="M1402.2,359.56L1438.6,359.56M1480.6,359.56L1512,359.56" stroke-linecap="round"/>
<path d="M1507,359.56L1517,359.56" stroke-linecap="butt"/>
<g fill="#fff" stroke="#000" stroke-width="3" stroke-linejoin="miter"><polygon stroke-width="3.4" points="1459.7,379.36 1442.379,349.36 1477.021,349.36"/></g>
</g>
<text transform="translate(1531.5,377.16) scale(1,1.041)" font-size="52" stroke="#000" stroke-width="1" stroke-linejoin="round" letter-spacing="-0.2" xml:space="preserve">Q-2,   M-200</text>
<g shape-rendering="crispEdges" fill="none" stroke="#000" stroke-width="8.8">
<path d="M1402.2,423.28L1438.6,423.28M1480.6,423.28L1512,423.28" stroke-linecap="round"/>
<path d="M1507,423.28L1517,423.28" stroke-linecap="butt"/>
<g fill="#fff" stroke="#000" stroke-width="3" stroke-linejoin="miter"><polygon stroke-width="3.4" points="1459.7,404.08 1477.021,434.08 1442.379,434.08"/></g>
</g>
<clipPath id="c2"><path clip-rule="evenodd" d="M-50,-200H341.865V100H-50ZM207.467,-6.205H217.582V1.5H207.467ZM223.178,-6.205H232.887V1.5H223.178Z"/></clipPath><text transform="translate(1531.5,440.88) scale(1,1.041)" font-size="52" clip-path="url(#c2)" dx="0 0 0 0 0 0 0 0 0 1.7 -1.7 0" stroke="#000" stroke-width="1" stroke-linejoin="round" letter-spacing="-0.2" xml:space="preserve">Q-2,   M-100</text>
<g shape-rendering="crispEdges" fill="none" stroke="#000" stroke-width="8.8">
<path d="M1402.2,487L1438.6,487M1480.6,487L1512,487" stroke-linecap="round"/>
<path d="M1507,487L1517,487" stroke-linecap="butt"/>
<g fill="#fff" stroke="#000" stroke-width="3" stroke-linejoin="miter"><circle cx="1459.7" cy="487.3" r="15.5"/></g>
</g>
<text transform="translate(1531.5,504.6) scale(1,1.041)" font-size="52" stroke="#000" stroke-width="1" stroke-linejoin="round" letter-spacing="-0.2" xml:space="preserve">Q-2,   M-40</text>
<g shape-rendering="crispEdges" fill="none" stroke="#000" stroke-width="8.8">
<path d="M1402.2,550.72L1438.6,550.72M1480.6,550.72L1512,550.72" stroke-linecap="round"/>
<path d="M1507,550.72L1517,550.72" stroke-linecap="butt"/>
<g fill="#fff" stroke="#000" stroke-width="3" stroke-linejoin="miter"><rect x="1446.2" y="537.52" width="27" height="27"/></g>
</g>
<clipPath id="c3"><path clip-rule="evenodd" d="M-50,-200H312.945V100H-50ZM207.467,-6.205H217.582V1.5H207.467ZM223.178,-6.205H232.887V1.5H223.178Z"/></clipPath><text transform="translate(1531.5,568.32) scale(1,1.041)" font-size="52" clip-path="url(#c3)" dx="0 0 0 0 0 0 0 0 0 1.7 -1.7" stroke="#000" stroke-width="1" stroke-linejoin="round" letter-spacing="-0.2" xml:space="preserve">Q-2,   M-10</text>
<g shape-rendering="crispEdges" fill="none" stroke="#000" stroke-width="8.8">
<path d="M1402.2,614.44L1512,614.44" stroke-linecap="round"/>
<path d="M1507,614.44L1517,614.44" stroke-linecap="butt"/>
</g>
<text transform="translate(1531.5,632.04) scale(1,1.041)" font-size="52" stroke="#000" stroke-width="1" stroke-linejoin="round" letter-spacing="-0.2" xml:space="preserve">Q-2,   M-2</text>
<g shape-rendering="crispEdges" fill="none" stroke="#ff0000" stroke-width="8.8">
<path d="M1402.2,678.16L1512,678.16" stroke-linecap="round"/>
<path d="M1507,678.16L1517,678.16" stroke-linecap="butt"/>
</g>
<text transform="translate(1531.5,695.76) scale(1,1.041)" font-size="52" stroke="#000" stroke-width="1" stroke-linejoin="round" letter-spacing="-0.2" xml:space="preserve">Q-4,   M-2</text>
<g shape-rendering="crispEdges" fill="none" stroke="#00ff00" stroke-width="8.8">
<path d="M1402.2,741.88L1512,741.88" stroke-linecap="round"/>
<path d="M1507,741.88L1517,741.88" stroke-linecap="butt"/>
</g>
<text transform="translate(1531.5,759.48) scale(1,1.041)" font-size="52" stroke="#000" stroke-width="1" stroke-linejoin="round" letter-spacing="-0.2" xml:space="preserve">Q-8,   M-2</text>
<g shape-rendering="crispEdges" fill="none" stroke="#0000ff" stroke-width="8.8">
<path d="M1402.2,805.6L1512,805.6" stroke-linecap="round"/>
<path d="M1507,805.6L1517,805.6" stroke-linecap="butt"/>
</g>
<clipPath id="c4"><path clip-rule="evenodd" d="M-50,-200H284.051V100H-50ZM61.525,-6.205H71.64V1.5H61.525ZM77.236,-6.205H86.945V1.5H77.236Z"/></clipPath><text transform="translate(1531.5,823.2) scale(1,1.041)" font-size="52" clip-path="url(#c4)" dx="0 0 1.7 -1.7 0 0 0 0 0" stroke="#000" stroke-width="1" stroke-linejoin="round" letter-spacing="-0.2" xml:space="preserve">Q-16, M-2</text>
</g>
<g id="labels">
<clipPath id="c5"><path clip-rule="evenodd" d="M-50,-200H144.88V100H-50ZM7.887,-9.758H23.839V1.4H7.887ZM32.178,-9.758H47.464V1.4H32.178Z"/></clipPath><text transform="translate(87.3,124.3) scale(1,1.041)" font-size="85.3" clip-path="url(#c5)" dx="2.789 -2.789" stroke="#000" stroke-width="0.8" stroke-linejoin="round" xml:space="preserve">10</text>
<text transform="translate(180.6,78.2) scale(1,1.041)" font-size="52" stroke="#000" stroke-width="1" stroke-linejoin="round" xml:space="preserve">0</text>
<clipPath id="c6"><path clip-rule="evenodd" d="M-50,-200H144.88V100H-50ZM7.887,-9.758H23.839V1.4H7.887ZM32.178,-9.758H47.464V1.4H32.178Z"/></clipPath><text transform="translate(70.5,283.411) scale(1,1.041)" font-size="85.3" clip-path="url(#c6)" dx="2.789 -2.789" stroke="#000" stroke-width="0.8" stroke-linejoin="round" xml:space="preserve">10</text>
<clipPath id="c7"><path clip-rule="evenodd" d="M-50,-200H96.236V100H-50ZM21.478,-6.205H31.593V1.5H21.478ZM37.189,-6.205H46.898V1.5H37.189Z"/></clipPath><text transform="translate(164.2,237.311) scale(1,1.041)" font-size="52" clip-path="url(#c7)" dx="0 1.7" stroke="#000" stroke-width="1" stroke-linejoin="round" xml:space="preserve">-1</text>
<clipPath id="c8"><path clip-rule="evenodd" d="M-50,-200H144.88V100H-50ZM7.887,-9.758H23.839V1.4H7.887ZM32.178,-9.758H47.464V1.4H32.178Z"/></clipPath><text transform="translate(70.5,442.522) scale(1,1.041)" font-size="85.3" clip-path="url(#c8)" dx="2.789 -2.789" stroke="#000" stroke-width="0.8" stroke-linejoin="round" xml:space="preserve">10</text>
<text transform="translate(164.2,396.422) scale(1,1.041)" font-size="52" stroke="#000" stroke-width="1" stroke-linejoin="round" xml:space="preserve">-2</text>
<clipPath id="c9"><path clip-rule="evenodd" d="M-50,-200H144.88V100H-50ZM7.887,-9.758H23.839V1.4H7.887ZM32.178,-9.758H47.464V1.4H32.178Z"/></clipPath><text transform="translate(70.5,601.633) scale(1,1.041)" font-size="85.3" clip-path="url(#c9)" dx="2.789 -2.789" stroke="#000" stroke-width="0.8" stroke-linejoin="round" xml:space="preserve">10</text>
<text transform="translate(164.2,555.533) scale(1,1.041)" font-size="52" stroke="#000" stroke-width="1" stroke-linejoin="round" xml:space="preserve">-3</text>
<clipPath id="c10"><path clip-rule="evenodd" d="M-50,-200H144.88V100H-50ZM7.887,-9.758H23.839V1.4H7.887ZM32.178,-9.758H47.464V1.4H32.178Z"/></clipPath><text transform="translate(70.5,760.744) scale(1,1.041)" font-size="85.3" clip-path="url(#c10)" dx="2.789 -2.789" stroke="#000" stroke-width="0.8" stroke-linejoin="round" xml:space="preserve">10</text>
<text transform="translate(164.2,714.644) scale(1,1.041)" font-size="52" stroke="#000" stroke-width="1" stroke-linejoin="round" xml:space="preserve">-4</text>
<clipPath id="c11"><path clip-rule="evenodd" d="M-50,-200H144.88V100H-50ZM7.887,-9.758H23.839V1.4H7.887ZM32.178,-9.758H47.464V1.4H32.178Z"/></clipPath><text transform="translate(70.5,919.855) scale(1,1.041)" font-size="85.3" clip-path="url(#c11)" dx="2.789 -2.789" stroke="#000" stroke-width="0.8" stroke-linejoin="round" xml:space="preserve">10</text>
<text transform="translate(164.2,873.755) scale(1,1.041)" font-size="52" stroke="#000" stroke-width="1" stroke-linejoin="round" xml:space="preserve">-5</text>
<clipPath id="c12"><path clip-rule="evenodd" d="M-50,-200H144.88V100H-50ZM7.887,-9.758H23.839V1.4H7.887ZM32.178,-9.758H47.464V1.4H32.178Z"/></clipPath><text transform="translate(70.5,1078.966) scale(1,1.041)" font-size="85.3" clip-path="url(#c12)" dx="2.789 -2.789" stroke="#000" stroke-width="0.8" stroke-linejoin="round" xml:space="preserve">10</text>
<text transform="translate(164.2,1032.866) scale(1,1.041)" font-size="52" stroke="#000" stroke-width="1" stroke-linejoin="round" xml:space="preserve">-6</text>
<clipPath id="c13"><path clip-rule="evenodd" d="M-50,-200H144.88V100H-50ZM7.887,-9.758H23.839V1.4H7.887ZM32.178,-9.758H47.464V1.4H32.178Z"/></clipPath><text transform="translate(70.5,1238.077) scale(1,1.041)" font-size="85.3" clip-path="url(#c13)" dx="2.789 -2.789" stroke="#000" stroke-width="0.8" stroke-linejoin="round" xml:space="preserve">10</text>
<text transform="translate(164.2,1191.977) scale(1,1.041)" font-size="52" stroke="#000" stroke-width="1" stroke-linejoin="round" xml:space="preserve">-7</text>
<clipPath id="c14"><path clip-rule="evenodd" d="M-50,-200H144.88V100H-50ZM7.887,-9.758H23.839V1.4H7.887ZM32.178,-9.758H47.464V1.4H32.178Z"/></clipPath><text transform="translate(70.5,1397.188) scale(1,1.041)" font-size="85.3" clip-path="url(#c14)" dx="2.789 -2.789" stroke="#000" stroke-width="0.8" stroke-linejoin="round" xml:space="preserve">10</text>
<text transform="translate(164.2,1351.088) scale(1,1.041)" font-size="52" stroke="#000" stroke-width="1" stroke-linejoin="round" xml:space="preserve">-8</text>
<clipPath id="c15"><path clip-rule="evenodd" d="M-50,-200H144.88V100H-50ZM7.887,-9.758H23.839V1.4H7.887ZM32.178,-9.758H47.464V1.4H32.178Z"/></clipPath><text transform="translate(70.5,1556.299) scale(1,1.041)" font-size="85.3" clip-path="url(#c15)" dx="2.789 -2.789" stroke="#000" stroke-width="0.8" stroke-linejoin="round" xml:space="preserve">10</text>
<text transform="translate(164.2,1510.199) scale(1,1.041)" font-size="52" stroke="#000" stroke-width="1" stroke-linejoin="round" xml:space="preserve">-9</text>
<text transform="translate(217.28,1623) scale(1,1.041)" font-size="85.3" stroke="#000" stroke-width="0.8" stroke-linejoin="round" xml:space="preserve">0</text>
<text transform="translate(444.03,1623) scale(1,1.041)" font-size="85.3" stroke="#000" stroke-width="0.8" stroke-linejoin="round" xml:space="preserve">5</text>
<clipPath id="c16"><path clip-rule="evenodd" d="M-50,-200H144.88V100H-50ZM7.887,-9.758H23.839V1.4H7.887ZM32.178,-9.758H47.464V1.4H32.178Z"/></clipPath><text transform="translate(647.06,1623) scale(1,1.041)" font-size="85.3" clip-path="url(#c16)" dx="2.789 -2.789" stroke="#000" stroke-width="0.8" stroke-linejoin="round" xml:space="preserve">10</text>
<clipPath id="c17"><path clip-rule="evenodd" d="M-50,-200H144.88V100H-50ZM7.887,-9.758H23.839V1.4H7.887ZM32.178,-9.758H47.464V1.4H32.178Z"/></clipPath><text transform="translate(873.81,1623) scale(1,1.041)" font-size="85.3" clip-path="url(#c17)" dx="2.789 -2.789" stroke="#000" stroke-width="0.8" stroke-linejoin="round" xml:space="preserve">15</text>
<text transform="translate(1100.56,1623) scale(1,1.041)" font-size="85.3" stroke="#000" stroke-width="0.8" stroke-linejoin="round" xml:space="preserve">20</text>
<text transform="translate(1327.31,1623) scale(1,1.041)" font-size="85.3" stroke="#000" stroke-width="0.8" stroke-linejoin="round" xml:space="preserve">25</text>
<text transform="translate(1554.06,1623) scale(1,1.041)" font-size="85.3" stroke="#000" stroke-width="0.8" stroke-linejoin="round" xml:space="preserve">30</text>
<text transform="translate(715.2,1743) scale(1,1.041)" font-size="89.5" font-weight="bold" stroke="#000" stroke-width="0.6" stroke-linejoin="round" xml:space="preserve">E<tspan font-size="53.7" dy="34.198">b</tspan><tspan dy="-34.198" dx="-2.5">/N</tspan><tspan font-size="53.7" dy="34.198" dx="-0.5">0</tspan><tspan dy="-34.198"> (dB)</tspan></text>
</g>
</svg></body></html>
